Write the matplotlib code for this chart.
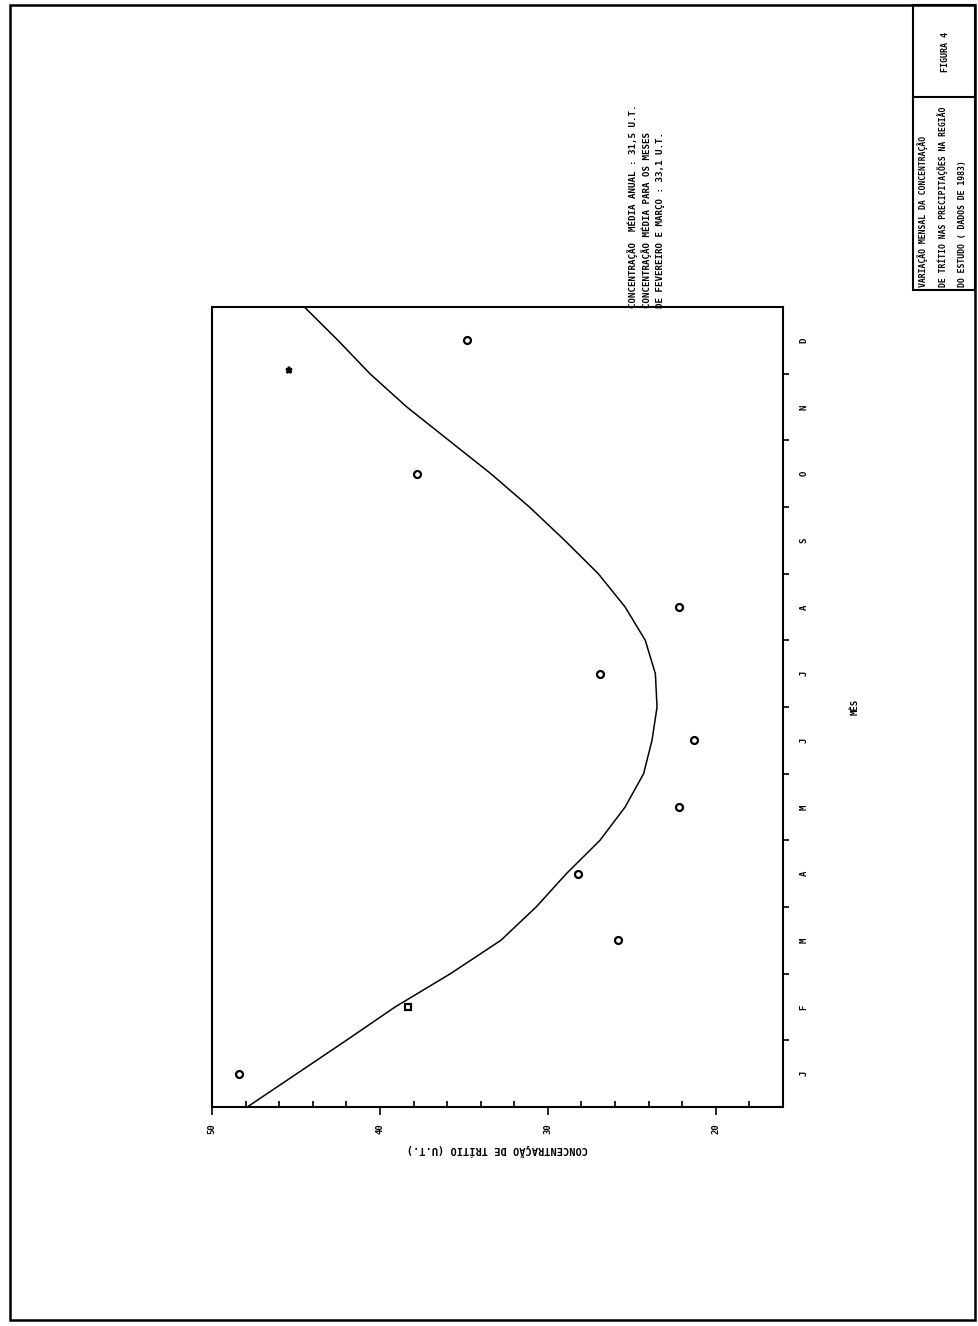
import numpy as np
import matplotlib
matplotlib.use("Agg")
import matplotlib.pyplot as plt
from matplotlib.patches import Rectangle
from matplotlib.lines import Line2D

W, H = 979, 1326

# ----- data -----
months = ["J", "F", "M", "A", "M", "J", "J", "A", "S", "O", "N", "D"]
obs_month = [1, 2, 3, 4, 5, 6, 7, 8, 10, 11.55, 12]
obs_conc = [48.4, 38.3, 25.8, 28.2, 22.2, 21.3, 26.9, 22.2, 37.8, 45.4, 34.8]
obs_marker = ["o", "s", "o", "o", "o", "o", "o", "o", "o", "*", "o"]

fit_month = [0.5, 1.5, 2, 2.5, 3, 3.5, 4, 4.5, 5, 5.5, 6, 6.5, 7, 7.5, 8, 8.5, 9, 9.5, 10, 10.5, 11, 11.5, 12, 12.5]
fit_conc = [47.9, 42.0, 39.1, 35.8, 32.8, 30.7, 28.9, 26.9, 25.4, 24.3, 23.8, 23.5, 23.6, 24.2, 25.4, 27.0,
            29.0, 31.1, 33.4, 35.9, 38.4, 40.6, 42.5, 44.5]

conc_ticks = [50, 40, 30, 20]

title_lines = ["VARIAÇÃO MENSAL DA CONCENTRAÇÃO",
               "DE TRÍTIO NAS PRECIPITAÇÕES NA REGIÃO",
               "DO ESTUDO ( DADOS DE 1983)"]
note_lines = ["CONCENTRAÇÃO  MÉDIA ANUAL : 31,5 U.T.",
              "CONCENTRAÇÃO MÉDIA PARA OS MESES",
              "DE FEVEREIRO E MARÇO : 33,1 U.T."]

FONT = "DejaVu Sans Mono"


def px(x, y):
    # pixel position (origin top-left) -> figure fraction
    return x / W, 1 - y / H


fig = plt.figure(figsize=(W / 100, H / 100), dpi=100)

# ----- page border and title block -----
fig.add_artist(Rectangle(px(10, 1320), (975 - 10) / W, (1320 - 5) / H, transform=fig.transFigure,
                         fill=False, lw=1.8, ec="black"))
fig.add_artist(Rectangle(px(913, 290), (975 - 913) / W, (290 - 5) / H, transform=fig.transFigure,
                         fill=False, lw=1.5, ec="black"))
fig.add_artist(Line2D([913 / W, 975 / W], [1 - 97 / H, 1 - 97 / H], transform=fig.transFigure, lw=1.5, c="black"))
fig.text(*px(946, 52), "FIGURA 4", rotation=90, ha="center", va="center", fontsize=6, family=FONT,
         fontweight="bold")
for i, line in enumerate(title_lines):
    fig.text(*px(923 + i * 20, 287), line, rotation=90, ha="center", va="bottom", fontsize=5.9,
             family=FONT, fontweight="bold")

for i, line in enumerate(note_lines):
    fig.text(*px(633 + i * 14, 308), line, rotation=90, ha="center", va="bottom", fontsize=6.6,
             family=FONT, fontweight="bold")

# ----- chart (page is rotated: concentration runs left, months run up) -----
ax = fig.add_axes([212 / W, 1 - 1107 / H, (783 - 212) / W, (1107 - 307) / H])
ax.plot(fit_conc, fit_month, color="black", lw=1.1)
for c, m, mk in zip(obs_conc, obs_month, obs_marker):
    ax.plot(c, m, marker=mk, ms=5 if mk != "*" else 4.5, mfc="white" if mk != "*" else "black",
            mec="black", mew=1.6, ls="none")

ax.set_xlim(50, 16)
ax.set_ylim(0.5, 12.5)

ax.set_xticks(conc_ticks)
ax.set_xticklabels([str(t) for t in conc_ticks], rotation=90, fontsize=6.5, family=FONT, fontweight="bold")
ax.set_xticks(np.arange(16, 51, 2), minor=True)
ax.tick_params(axis="x", which="major", direction="out", length=6, width=1.2, pad=6)
ax.tick_params(axis="x", which="minor", direction="in", length=4, width=1.2)

ax.yaxis.tick_right()
ax.set_yticks(range(1, 13))
ax.set_yticklabels(months, rotation=90, fontsize=6.5, family=FONT, fontweight="bold", va="center")
ax.set_yticks(np.arange(1.5, 12, 1), minor=True)
ax.tick_params(axis="y", which="major", length=0, pad=12)
ax.tick_params(axis="y", which="minor", direction="out", length=4, width=1.2)
ax.tick_params(axis="y", which="minor", left=False)

ax.yaxis.set_label_position("right")
ax.set_ylabel("MÊS", rotation=90, fontsize=6.5, family=FONT, fontweight="bold", labelpad=30)
ax.set_xlabel("CONCENTRAÇÃO DE TRÍTIO (U.T.)", rotation=180, fontsize=7.5, family=FONT, fontweight="bold",
              labelpad=7)

for s in ax.spines.values():
    s.set_linewidth(1.5)

fig.savefig("out.png", dpi=100, facecolor="white")
